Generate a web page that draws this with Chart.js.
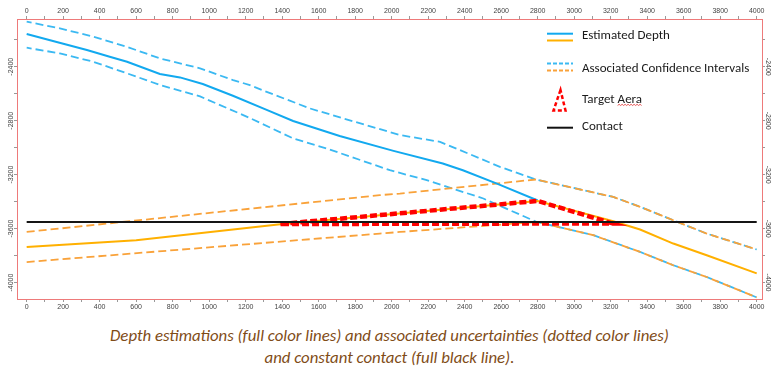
<!DOCTYPE html>
<html>
<head>
<meta charset="utf-8">
<script src="https://cdn.jsdelivr.net/npm/chart.js@4"></script>
<style>
  html, body { margin: 0; padding: 0; background: #ffffff; }
  #wrap { position: relative; width: 779px; height: 378px; overflow: hidden; }
  #c { position: absolute; left: 0; top: 0; }
  .cap { position: absolute; left: 0; width: 779px; text-align: center;
         font-family: Carlito, Lato, "Open Sans", sans-serif; font-style: italic;
         color: #7F4C17; font-size: 16.8px; line-height: 20px; white-space: nowrap; }
</style>
</head>
<body>
<div id="wrap">
  <canvas id="c" width="779" height="312"></canvas>
  <div class="cap" id="cap1" style="top:326px;"></div>
  <div class="cap" id="cap2" style="top:348px;"></div>
</div>
<script>
// ---------- DATA ----------
const xTickLabels = [0,200,400,600,800,1000,1200,1400,1600,1800,2000,2200,2400,2600,2800,3000,3200,3400,3600,3800,4000];
const yTickLabels = [-2400,-2800,-3200,-3600,-4000];

// Estimated depth (blue, full line)
const depthBlueX = [0,180,330,455,550,730,840,965,1130,1315,1460,1715,2010,2280,2390,2580,2800];
const depthBlueY = [-2157,-2222,-2276,-2326,-2363,-2454,-2479,-2528,-2615,-2720,-2802,-2914,-3024,-3117,-3167,-3268,-3392];

// Confidence interval (blue, dashed) upper / lower
const ciBlueUpX = [0,182,365,548,730,950,1131,1223,1315,1552,1735,2047,2265,2374,2593,2790,3214,3361,3543,3726,4000];
const ciBlueUpY = [-2066,-2115,-2177,-2252,-2338,-2412,-2499,-2536,-2586,-2709,-2783,-2907,-2957,-3018,-3142,-3236,-3365,-3439,-3538,-3637,-3755];
const ciBlueLoX = [0,182,365,548,730,950,1223,1461,1644,1990,2192,2502,2795,3105,3361,3543,3726,4000];
const ciBlueLoY = [-2259,-2301,-2363,-2448,-2535,-2620,-2780,-2932,-3006,-3167,-3241,-3377,-3551,-3649,-3773,-3872,-3959,-4110];

// Estimated depth (orange, full line)
const depthOrangeX = [0,600,1390,1935,2800,3214,3361,3543,3726,4000];
const depthOrangeY = [-3736,-3686,-3567,-3501,-3395,-3545,-3607,-3711,-3798,-3932];

// Confidence interval (orange, dashed) upper / lower
const ciOrangeUpX = [0,1935,2045,2790,3214,3361,3543,3726,4000];
const ciOrangeUpY = [-3625,-3352,-3340,-3236,-3365,-3439,-3538,-3637,-3755];
const ciOrangeLoX = [0,1935,2045,2795,3105,3361,3543,3726,4000];
const ciOrangeLoY = [-3848,-3637,-3625,-3551,-3649,-3773,-3872,-3959,-4110];

// Target area (red dashed triangle)
const targetX = [1390,2800,3210,1390];
const targetY = [-3566,-3395,-3562,-3566];

// Constant contact (black)
const contactX = [0,4000];
const contactY = [-3551,-3551];

const legendLabels = ['Estimated Depth','Associated Confidence Intervals','Target Aera','Contact'];
const captionLines = ['Depth estimations (full color lines) and associated uncertainties (dotted color lines)','and constant contact (full black line).'];

// ---------- helpers ----------
const pts = (xs, ys) => xs.map((x, i) => ({ x: x, y: ys[i] }));

const C_BLUE = '#12A9EF';
const C_BLUE_D = '#3BB9F2';
const C_OR = '#FFB000';
const C_OR_D = '#F9A23A';
const C_RED = '#FF0000';

document.getElementById('cap1').textContent = captionLines[0];
document.getElementById('cap2').textContent = captionLines[1];

const LEGEND_FONT = '13px Carlito, Lato, "Open Sans", sans-serif';

const decorPlugin = {
  id: 'decor',
  afterDraw(chart) {
    const ctx = chart.ctx;
    const ys = chart.scales.y;
    // rotated y labels
    ctx.save();
    ctx.fillStyle = '#444';
    ctx.font = '7px "Liberation Sans", Arial, sans-serif';
    ctx.textAlign = 'center';
    ctx.textBaseline = 'middle';
    yTickLabels.forEach(v => {
      const py = ys.getPixelForValue(v);
      ctx.save(); ctx.translate(11.5, py); ctx.rotate(-Math.PI / 2); ctx.fillText(String(v), 0, 0); ctx.restore();
      ctx.save(); ctx.translate(768, py); ctx.rotate(Math.PI / 2); ctx.fillText(String(v), 0, 0); ctx.restore();
    });
    ctx.restore();

    // legend
    const x0 = 547, x1 = 573, tx = 582;
    ctx.save();
    ctx.lineCap = 'butt';
    ctx.lineWidth = 2;
    ctx.strokeStyle = C_BLUE; ctx.beginPath(); ctx.moveTo(x0, 33.7); ctx.lineTo(x1, 33.7); ctx.stroke();
    ctx.strokeStyle = C_OR; ctx.beginPath(); ctx.moveTo(x0, 40.5); ctx.lineTo(x1, 40.5); ctx.stroke();
    ctx.setLineDash([4, 2]);
    ctx.strokeStyle = C_BLUE_D; ctx.beginPath(); ctx.moveTo(x0, 63.5); ctx.lineTo(x1, 63.5); ctx.stroke();
    ctx.strokeStyle = C_OR_D; ctx.beginPath(); ctx.moveTo(x0, 70.5); ctx.lineTo(x1, 70.5); ctx.stroke();
    ctx.setLineDash([4, 2.5]);
    ctx.lineWidth = 2.5;
    ctx.strokeStyle = C_RED;
    ctx.beginPath(); ctx.moveTo(560.5, 90); ctx.lineTo(553.5, 110.5); ctx.lineTo(565.5, 110.5); ctx.closePath(); ctx.stroke();
    ctx.setLineDash([]);
    ctx.lineWidth = 2;
    ctx.strokeStyle = '#111';
    ctx.beginPath(); ctx.moveTo(x0, 127.7); ctx.lineTo(x1, 127.7); ctx.stroke();
    ctx.fillStyle = '#1a1a1a';
    ctx.font = LEGEND_FONT;
    ctx.textAlign = 'left';
    ctx.textBaseline = 'middle';
    ctx.fillText(legendLabels[0], tx, 36);
    ctx.fillText(legendLabels[1], tx, 68.5);
    ctx.fillText(legendLabels[2], tx, 100);
    ctx.fillText(legendLabels[3], tx, 126.5);
    // spell-check squiggle under "Aera"
    const pre = ctx.measureText('Target ').width;
    const w = ctx.measureText('Aera').width;
    ctx.strokeStyle = '#E03030';
    ctx.lineWidth = 0.8;
    ctx.beginPath();
    const sx = tx + pre, sy = 105.5;
    ctx.moveTo(sx, sy);
    let up = true;
    for (let px = sx + 1.5; px <= sx + w + 0.1; px += 1.5) { ctx.lineTo(px, up ? sy - 1.2 : sy); up = !up; }
    ctx.stroke();
    ctx.restore();
  }
};

const xMin = -53, xMax = 4029, yMin = -4122, yMax = -2046;

function filt(step) {
  return (scale) => { scale.ticks = scale.ticks.filter(t => Math.abs(t.value % step) < 1e-6); };
}

const xCommon = {
  type: 'linear', min: xMin, max: xMax,
  border: { display: true, color: '#EE7A7A', width: 1 },
  grid: { drawOnChartArea: false, drawTicks: true, tickLength: 3, tickColor: '#999', color: '#999' },
  afterBuildTicks: filt(100),
  ticks: {
    stepSize: 100, includeBounds: false, autoSkip: false, maxRotation: 0, minRotation: 0, padding: 1,
    color: '#444', font: { size: 7, family: '"Liberation Sans", Arial, sans-serif' },
    callback: (v) => (xTickLabels.includes(v) ? String(v) : '')
  }
};
const yCommon = {
  type: 'linear', min: yMin, max: yMax,
  border: { display: true, color: '#EE7A7A', width: 1 },
  grid: { drawOnChartArea: false, drawTicks: true, tickLength: 3, tickColor: '#999', color: '#999' },
  afterBuildTicks: filt(200),
  ticks: { stepSize: 200, includeBounds: false, autoSkip: false, callback: () => '' }
};

new Chart(document.getElementById('c'), {
  type: 'line',
  data: {
    datasets: [
      { label: 'Contact', data: pts(contactX, contactY), borderColor: '#151515', borderWidth: 2, order: 0 },
      { label: 'Target Aera', data: pts(targetX, targetY), borderColor: C_RED, borderWidth: 4.5, borderDash: [7, 3], borderJoinStyle: 'miter', order: 1 },
      { label: 'Estimated Depth (orange)', data: pts(depthOrangeX, depthOrangeY), borderColor: C_OR, borderWidth: 2, order: 2 },
      { label: 'Estimated Depth (blue)', data: pts(depthBlueX, depthBlueY), borderColor: C_BLUE, borderWidth: 2, order: 3 },
      { label: 'CI orange upper', data: pts(ciOrangeUpX, ciOrangeUpY), borderColor: C_OR_D, borderWidth: 1.8, borderDash: [8, 4], order: 4 },
      { label: 'CI orange lower', data: pts(ciOrangeLoX, ciOrangeLoY), borderColor: C_OR_D, borderWidth: 1.8, borderDash: [8, 4], order: 5 },
      { label: 'CI blue upper', data: pts(ciBlueUpX, ciBlueUpY), borderColor: C_BLUE_D, borderWidth: 1.8, borderDash: [8, 4], borderDashOffset: 3, order: 6 },
      { label: 'CI blue lower', data: pts(ciBlueLoX, ciBlueLoY), borderColor: C_BLUE_D, borderWidth: 1.8, borderDash: [8, 4], borderDashOffset: 3, order: 7 }
    ]
  },
  options: {
    responsive: false,
    animation: false,
    devicePixelRatio: 1,
    elements: { point: { radius: 0, hoverRadius: 0 }, line: { tension: 0, fill: false, borderCapStyle: 'butt' } },
    layout: { padding: 0 },
    plugins: { legend: { display: false }, tooltip: { enabled: false }, title: { display: false } },
    scales: {
      x: Object.assign({}, xCommon, { position: 'bottom', afterFit: (s) => { s.height = 13; } }),
      x2: Object.assign({}, xCommon, { position: 'top', afterFit: (s) => { s.height = 19; } }),
      y: Object.assign({}, yCommon, { position: 'left', afterFit: (s) => { s.width = 17; } }),
      y2: Object.assign({}, yCommon, { position: 'right', afterFit: (s) => { s.width = 17; } })
    }
  },
  plugins: [decorPlugin]
});
</script>
</body>
</html>
